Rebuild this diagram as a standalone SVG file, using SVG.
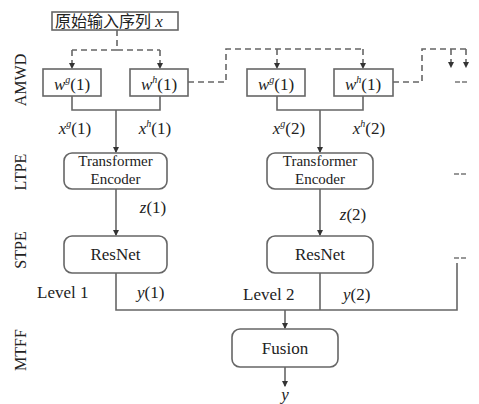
<svg xmlns="http://www.w3.org/2000/svg" width="479" height="404" viewBox="0 0 479 404">
<defs>
<marker id="ah" viewBox="0 0 6 6" refX="5" refY="3" markerWidth="4" markerHeight="4" orient="auto">
<path d="M0,0 L6,3 L0,6 z" fill="#333"/>
</marker>
<style>
text{font-family:'Liberation Serif','Times New Roman',serif;fill:#222}
.t{font-size:17px}
.te{font-size:15px}
.i{font-style:italic}
.sup{font-size:10px;font-style:italic}
.side{font-size:16px}
.box{fill:#fff;stroke:#666;stroke-width:1.6}
.ln{fill:none;stroke:#666;stroke-width:1.6}
.dash{fill:none;stroke:#666;stroke-width:1.6;stroke-dasharray:6,4}
.ell{fill:none;stroke:#777;stroke-width:1.4;stroke-dasharray:5,2}
</style>
</defs>
<rect width="479" height="404" fill="#fff"/>

<g id="side-labels">
<text class="side" transform="translate(26,80) rotate(-90)" text-anchor="middle">AMWD</text>
<text class="side" transform="translate(26,172) rotate(-90)" text-anchor="middle">LTPE</text>
<text class="side" transform="translate(26,250) rotate(-90)" text-anchor="middle">STPE</text>
<text class="side" transform="translate(26,350) rotate(-90)" text-anchor="middle">MTFF</text>
</g>

<g id="connectors">
<path class="dash" d="M117,30 V50 H72"/>
<path class="dash" d="M117,50 H160"/>
<path class="dash" d="M72,50 V68" marker-end="url(#ah)"/>
<path class="dash" d="M160,50 V68" marker-end="url(#ah)"/>
<path class="dash" d="M188,82 H226 V49 H363"/>
<path class="dash" d="M277,49 V68" marker-end="url(#ah)"/>
<path class="dash" d="M363,49 V68" marker-end="url(#ah)"/>
<path class="dash" d="M393,82 H422 V49 H466"/>
<path class="dash" d="M451,49 V67" marker-end="url(#ah)"/>
<path class="dash" d="M466,49 V67" marker-end="url(#ah)"/>
<path class="ell" d="M455,82 H467"/>
<path class="ln" d="M72,96 V110 H160 V96"/>
<path class="ln" d="M116,110 V152" marker-end="url(#ah)"/>
<path class="ln" d="M116,189 V235" marker-end="url(#ah)"/>
<path class="ln" d="M277,96 V110 H363 V96"/>
<path class="ln" d="M320,110 V152" marker-end="url(#ah)"/>
<path class="ln" d="M320,189 V235" marker-end="url(#ah)"/>
<path class="ell" d="M454,174 H466"/>
<path class="ell" d="M454,258 H466"/>
<path class="ln" d="M116,273 V310 H457 V263"/>
<path class="ln" d="M320,273 V310"/>
<path class="ln" d="M285,310 V328" marker-end="url(#ah)"/>
<path class="ln" d="M285,367 V386" marker-end="url(#ah)"/>
</g>

<g id="input">
<rect class="box" x="52" y="12" width="126" height="18"/>
<text x="55" y="27" style="font-family:'Noto Sans CJK SC',sans-serif" font-size="16">原始输入序列<tspan style="font-family:'Liberation Serif',serif" font-style="italic" font-size="17"> x</tspan></text>
</g>

<g id="wg1">
<rect class="box" x="43" y="69" width="58" height="27"/>
<text class="t" x="72" y="90" text-anchor="middle"><tspan class="i">w</tspan><tspan class="sup" dy="-7">g</tspan><tspan dy="7">(1)</tspan></text>
</g>
<g id="wh1">
<rect class="box" x="130" y="69" width="58" height="27"/>
<text class="t" x="159" y="90" text-anchor="middle"><tspan class="i">w</tspan><tspan class="sup" dy="-7">h</tspan><tspan dy="7">(1)</tspan></text>
</g>
<g id="wg2">
<rect class="box" x="247" y="69" width="58" height="27"/>
<text class="t" x="276" y="90" text-anchor="middle"><tspan class="i">w</tspan><tspan class="sup" dy="-7">g</tspan><tspan dy="7">(1)</tspan></text>
</g>
<g id="wh2">
<rect class="box" x="334" y="69" width="59" height="27"/>
<text class="t" x="363" y="90" text-anchor="middle"><tspan class="i">w</tspan><tspan class="sup" dy="-7">h</tspan><tspan dy="7">(1)</tspan></text>
</g>

<g id="edge-labels">
<text class="t" x="75" y="134" text-anchor="middle"><tspan class="i">x</tspan><tspan class="sup" dy="-7">g</tspan><tspan dy="7">(1)</tspan></text>
<text class="t" x="155" y="134" text-anchor="middle"><tspan class="i">x</tspan><tspan class="sup" dy="-7">h</tspan><tspan dy="7">(1)</tspan></text>
<text class="t" x="289" y="134" text-anchor="middle"><tspan class="i">x</tspan><tspan class="sup" dy="-7">g</tspan><tspan dy="7">(2)</tspan></text>
<text class="t" x="369" y="134" text-anchor="middle"><tspan class="i">x</tspan><tspan class="sup" dy="-7">h</tspan><tspan dy="7">(2)</tspan></text>
<text class="t" x="153" y="213" text-anchor="middle"><tspan class="i">z</tspan>(1)</text>
<text class="t" x="353" y="220" text-anchor="middle"><tspan class="i">z</tspan>(2)</text>
<text class="t" x="37" y="298">Level 1</text>
<text class="t" x="137" y="298"><tspan class="i">y</tspan>(1)</text>
<text class="t" x="243" y="300">Level 2</text>
<text class="t" x="343" y="300"><tspan class="i">y</tspan>(2)</text>
<text class="t i" x="285" y="400" text-anchor="middle">y</text>
</g>

<g id="te1">
<rect class="box" x="64" y="153" width="103" height="36" rx="8"/>
<text class="te" x="115.5" y="166" text-anchor="middle">Transformer</text>
<text class="te" x="115.5" y="183.5" text-anchor="middle">Encoder</text>
</g>
<g id="te2">
<rect class="box" x="267" y="153" width="106" height="36" rx="8"/>
<text class="te" x="320" y="166" text-anchor="middle">Transformer</text>
<text class="te" x="320" y="183.5" text-anchor="middle">Encoder</text>
</g>
<g id="res1">
<rect class="box" x="64" y="236" width="103" height="37" rx="8"/>
<text class="t" x="115.5" y="260" text-anchor="middle">ResNet</text>
</g>
<g id="res2">
<rect class="box" x="267" y="236" width="106" height="37" rx="8"/>
<text class="t" x="320" y="260" text-anchor="middle">ResNet</text>
</g>
<g id="fusion">
<rect class="box" x="232" y="329" width="106" height="38" rx="8"/>
<text class="t" x="285" y="354" text-anchor="middle">Fusion</text>
</g>
</svg>
